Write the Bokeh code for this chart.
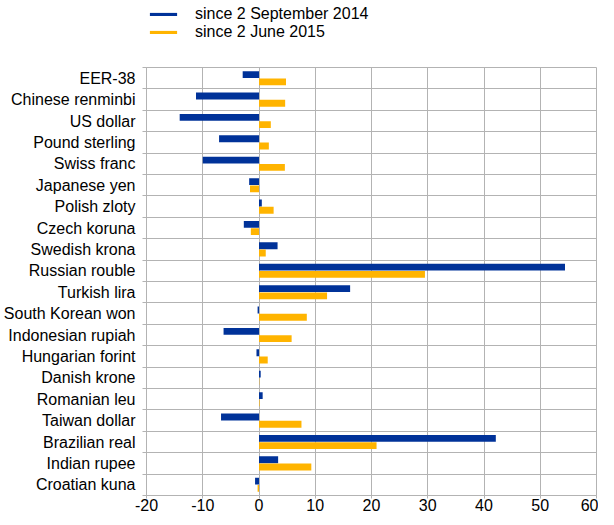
from bokeh.plotting import figure
from bokeh.layouts import column
from bokeh.models import Legend, LegendItem, FixedTicker, ColumnDataSource, Range1d
from bokeh.transform import dodge
from bokeh.embed import file_html
from bokeh.resources import INLINE

currencies = ["EER-38", "Chinese renminbi", "US dollar", "Pound sterling", "Swiss franc",
              "Japanese yen", "Polish zloty", "Czech koruna", "Swedish krona", "Russian rouble",
              "Turkish lira", "South Korean won", "Indonesian rupiah", "Hungarian forint",
              "Danish krone", "Romanian leu", "Taiwan dollar", "Brazilian real", "Indian rupee",
              "Croatian kuna"]
since_2_september_2014 = [-2.9, -11.2, -14.1, -7.1, -10.0, -1.75, 0.5, -2.7, 3.3, 54.4,
                          16.2, -0.25, -6.3, -0.45, 0.3, 0.65, -6.75, 42.1, 3.4, -0.7]
since_2_june_2015 = [4.8, 4.65, 2.1, 1.75, 4.6, -1.6, 2.6, -1.45, 1.2, 29.5,
                     12.1, 8.5, 5.8, 1.55, 0.05, 0.1, 7.55, 20.9, 9.3, -0.25]
series_labels = ["since 2 September 2014", "since 2 June 2015"]
x_ticks = [-20, -10, 0, 10, 20, 30, 40, 50, 60]
x_tick_labels = ["-20", "-10", "0", "10", "20", "30", "40", "50", "60"]

BLUE = "#003299"
ORANGE = "#FFB400"
GRID = "#b3b3b3"
FONT = "Liberation Sans"
FS = "16px"
LEFT = 137

n = len(currencies)
idx = list(range(n))
src = ColumnDataSource(dict(y=idx, a=since_2_september_2014, b=since_2_june_2015, name=currencies))

# ---- legend strip on top (proxy bars lie outside its visible range) ----
leg = figure(width=598, height=66, output_backend="svg", toolbar_location=None,
             x_range=Range1d(0, 1), y_range=Range1d(1, 2),
             x_axis_location=None, y_axis_location=None,
             min_border_left=LEFT, min_border_right=0, min_border_top=5, min_border_bottom=0)
leg.grid.visible = False
leg.outline_line_color = None
leg_src = ColumnDataSource(dict(y=[0], a=since_2_september_2014[:1], b=since_2_june_2015[:1]))
lr1 = leg.hbar(y="y", right="a", height=0.3, source=leg_src, fill_color=BLUE, line_color=None)
lr2 = leg.hbar(y="y", right="b", height=0.3, source=leg_src, fill_color=ORANGE, line_color=None)
legend = Legend(items=[LegendItem(label=series_labels[0], renderers=[lr1]),
                       LegendItem(label=series_labels[1], renderers=[lr2])],
                location="top_left", orientation="vertical",
                border_line_color=None, background_fill_alpha=0,
                glyph_width=34, glyph_height=4, label_height=18, label_standoff=15,
                padding=0, margin=0, spacing=0,
                label_text_font=FONT, label_text_font_size=FS, label_text_color="#000000")
leg.add_layout(legend)

# ---- main chart ----
p = figure(width=598, height=451, output_backend="svg", toolbar_location=None,
           x_range=Range1d(x_ticks[0], x_ticks[-1]), y_range=Range1d(n - 0.5, -0.5),
           min_border_left=LEFT, min_border_right=2, min_border_top=1, min_border_bottom=22)

p.hbar(y=dodge("y", -0.17, range=p.y_range), left=0, right="a", height=0.32, source=src,
       fill_color=BLUE, line_color=None)
p.hbar(y=dodge("y", 0.17, range=p.y_range), left=0, right="b", height=0.32, source=src,
       fill_color=ORANGE, line_color=None)

p.yaxis.ticker = FixedTicker(ticks=idx, minor_ticks=[i - 0.5 for i in range(n + 1)])
p.yaxis.major_label_overrides = {i: c for i, c in enumerate(currencies)}
p.yaxis.major_tick_out = 0
p.yaxis.major_tick_in = 0
p.yaxis.minor_tick_out = 4
p.yaxis.minor_tick_in = 0
p.yaxis.minor_tick_line_color = GRID
p.yaxis.axis_line_color = GRID
p.yaxis.major_label_standoff = 7
p.yaxis.major_label_text_font = FONT
p.yaxis.major_label_text_font_size = FS
p.yaxis.major_label_text_color = "#000000"

p.xaxis.ticker = FixedTicker(ticks=x_ticks)
p.xaxis.major_label_overrides = {t: l for t, l in zip(x_ticks, x_tick_labels)}
p.xaxis.major_tick_out = 3
p.xaxis.major_tick_in = 0
p.xaxis.minor_tick_line_color = None
p.xaxis.major_tick_line_color = GRID
p.xaxis.axis_line_color = GRID
p.xaxis.major_label_standoff = 0
p.xaxis.major_label_text_font = FONT
p.xaxis.major_label_text_font_size = FS
p.xaxis.major_label_text_color = "#000000"

p.xgrid.grid_line_color = GRID
p.xgrid.ticker = FixedTicker(ticks=x_ticks)
p.ygrid.grid_line_color = GRID
p.ygrid.ticker = FixedTicker(ticks=[i - 0.5 for i in range(n + 1)])
p.outline_line_color = GRID
p.background_fill_color = "white"
p.border_fill_color = "white"

layout = column(leg, p, spacing=0)
open("out.html", "w").write(file_html(layout, INLINE))
